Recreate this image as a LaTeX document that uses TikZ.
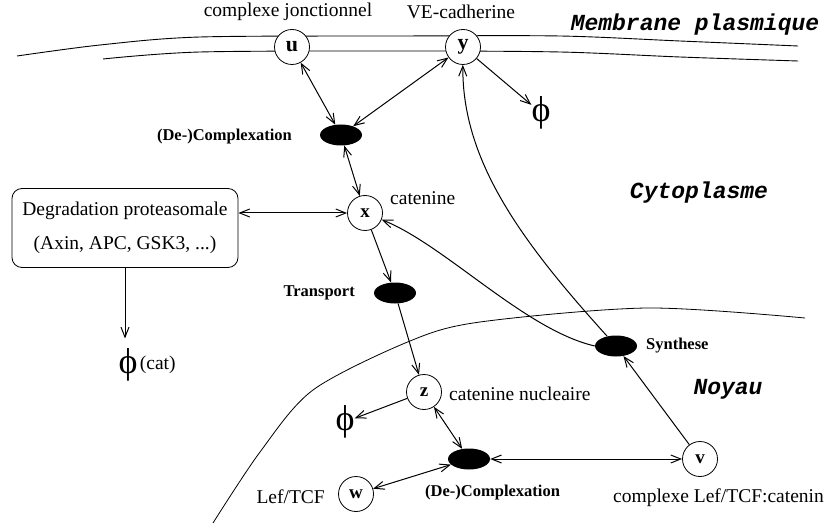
\documentclass[tikz,border=0pt]{standalone}
\usepackage{fontspec}
\setmainfont{Liberation Serif}
\newfontfamily\courfont{Liberation Mono}
\usetikzlibrary{shapes.geometric,arrows.meta}

\begin{document}
\begin{tikzpicture}[x=1pt,y=-1pt,
    lab/.style={font=\fontsize{19.5}{23}\selectfont, inner sep=0pt},
    proc/.style={font=\bfseries\fontsize{16.5}{20}\selectfont, inner sep=0pt},
    zone/.style={font=\courfont\bfseries\itshape\fontsize{23}{25}\selectfont, inner sep=0pt},
    var/.style={circle, draw, line width=0.8pt, fill=white, minimum size=35pt, inner sep=0pt, font=\bfseries\fontsize{19}{20}\selectfont},
    memvar/.style={var, font=\bfseries\fontsize{22}{22}\selectfont},
    reac/.style={ellipse, fill=black, minimum width=42pt, minimum height=21pt, inner sep=0pt},
    phi/.style={font=\fontsize{36}{36}\selectfont, inner sep=0pt},
    link/.style={line width=1pt, -{Straight Barb[length=10pt,width=8pt]}},
    dbl/.style={line width=1pt, {Straight Barb[length=10pt,width=8pt]}-{Straight Barb[length=10pt,width=8pt]}},
  ]
  \useasboundingbox (0,0) rectangle (826,526);

  \draw[line width=0.9pt] plot[smooth] coordinates {(17,56) (100,45) (200,37) (400,36) (560,36) (680,41) (798,46)};
  \draw[line width=0.9pt] plot[smooth] coordinates {(103,59) (200,52) (400,51) (560,52) (680,57) (798,61)};
  \draw[line width=0.8pt] plot[smooth] coordinates {(213,523) (260,452) (313,390) (410,341) (480,322) (647,308) (805,318)};

  \node[memvar] (u) at (292,47) {u};
  \node[memvar] (y) at (463,47) {y};
  \node[var] (x) at (365,213) {x};
  \node[var] (z) at (424,392) {z};
  \node[var] (w) at (356,494) {w};
  \node[var] (v) at (700,459) {v};

  \node[reac] (cplx) at (341,135) {};
  \node[reac] (transp) at (395,293) {};
  \node[reac] (synth) at (616,346) {};
  \node[reac] (cplxn) at (469,459) {};

  \node[draw, line width=0.8pt, rounded corners=10pt, minimum width=226pt, minimum height=79pt,
        align=center, inner sep=0pt, font=\fontsize{19.5}{34}\selectfont] (degr) at (125,228)
        {Degradation proteasomale\\(Axin, APC, GSK3, ...)};

  \node[phi] (phiy) at (541,113) {\symbol{"03D5}};
  \node[phi] (phiz) at (345,422) {\symbol{"03D5}};
  \node[phi] (phicat) at (128,365) {\symbol{"03D5}};
  \node[lab, anchor=west] (cat) at ([xshift=2pt]phicat.east) {(cat)};

  \node[lab] (lu) at (288,12) {complexe jonctionnel};
  \node[lab] (ly) at (461,12) {VE-cadherine};
  \node[lab, anchor=west] (lx) at (390,198) {catenine};
  \node[lab, anchor=west] (lz) at (449,394) {catenine nucleaire};
  \node[lab, anchor=east] (lw) at (325,497) {Lef/TCF};
  \node[lab, anchor=west] (lv) at (613,498) {complexe Lef/TCF:catenin};
  \node[proc, anchor=east] (lcplx) at (292,137) {(De-)Complexation};
  \node[proc, anchor=east] (ltransp) at (355,293) {Transport};
  \node[proc, anchor=west] (lsynth) at (646,346) {Synthese};
  \node[proc, anchor=west] (lcplxn) at (425,493) {(De-)Complexation};

  \node[zone] (memb) at (695,25) {Membrane plasmique};
  \node[zone] (cyto) at (699,193) {Cytoplasme};
  \node[zone] (noy) at (728,389) {Noyau};

  \draw[dbl] (u) -- (cplx);
  \draw[dbl] (y) -- (cplx);
  \draw[dbl] (cplx) -- (x);
  \draw[link] (y) -- (phiy);
  \draw[dbl] (degr.east |- x) -- (x);
  \draw[link, shorten >=10pt] (degr.south) -- (degr.south |- phicat.north);
  \draw[link] (x) -- (transp);
  \draw[link] (transp) -- (z);
  \draw[link] (z) -- (phiz);
  \draw[dbl] (z) -- (cplxn);
  \draw[dbl] (cplxn) -- (v);
  \draw[dbl] (cplxn) -- (w);
  \draw[link] (v) -- (synth);
  \draw[link] (synth.west) .. controls (525,330) and (445,245) .. (x);
  \draw[link] (synth) .. controls (520,240) and (462,160) .. (y);
\end{tikzpicture}
\end{document}
